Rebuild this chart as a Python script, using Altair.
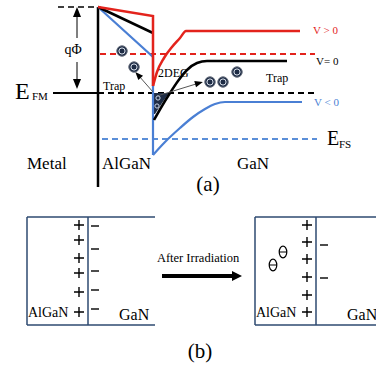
import altair as alt
import pandas as pd

W, H = 376, 368
XS = alt.Scale(domain=[0, W], range=[0, W])
YS = alt.Scale(domain=[0, H], range=[0, H])
FONT = "Liberation Serif"

RED = "#E3231C"
BLUE = "#4A7FD4"
DBLUE = "#5B8FD8"
BOX = "#2E4A70"
NAVY = "#1E2C45"

# ---------------- panel (a) data ----------------
metal_x = [98, 98]; metal_y = [7, 187]
efm_x = [53, 98]; efm_y = [93, 93]
top_dash_x = [58, 97]; top_dash_y = [7, 7]
red_dash_x = [100, 315]; red_dash_y = [54, 54]
black_dash_x = [98, 315]; black_dash_y = [93, 93]
blue_dash_x = [102, 317]; blue_dash_y = [139, 139]

red_top_x = [98, 153, 153]; red_top_y = [7, 16, 86]
red_curve_x = [153, 157, 164, 172, 180, 186, 300]; red_curve_y = [86, 72, 58, 47, 38, 31, 31]
black_top_x = [98, 153]; black_top_y = [7, 33]
black_curve_x = [154, 162, 170, 178, 187, 197, 207, 287]
black_curve_y = [120, 106, 93, 81, 70, 63, 61, 61]
blue_top_x = [98, 153, 153]; blue_top_y = [7, 57, 155]
blue_curve_x = [153, 165, 180, 193, 205, 215, 225, 302]
blue_curve_y = [155, 142, 128, 117, 109, 104, 102, 102]

# 2DEG well fill (rows of the triangle between wall and band)
well_fill_y = [93, 103, 114]
well_fill_x = [154, 154, 154]
well_fill_x2 = [169, 162, 155]

qphi_x1 = [77, 77]; qphi_y1 = [15, 38]
qphi_x2 = [77, 77]; qphi_y2 = [62, 82]
grayL_x = [153, 139]; grayL_y = [92, 76]
grayR_x = [157, 196]; grayR_y = [96, 84]

elec_x = [122, 134, 210, 223, 237]
elec_y = [51, 67, 82, 82, 72]
well_x = [158, 157]
well_y = [98, 106]

# ---------------- panel (b) data ----------------
boxL_h_x = [27, 155]; box_top = 217; box_bot = 325
boxL_left = 27; boxL_div = 88
boxR_h_x = [255, 376]; boxR_left = 255; boxR_div = 316
plusL_y = [225, 240, 258, 273, 292, 312]; plusL_x = 79
minusL_y = [226, 249, 271, 290, 309]; minusL_x = 95
plusR_y = [225, 242, 259, 277, 295, 312]; plusR_x = 307
minusR_y = [245, 278]; minusR_x = 324
omin_x = [283, 273]; omin_y = [252, 265]
irr_x = [162, 234]; irr_y = [276, 276]


def line(xs, ys, color, width, dash=None, interp="linear"):
    df = pd.DataFrame({"x": xs, "y": ys, "o": list(range(len(xs)))})
    kw = dict(color=color, strokeWidth=width, interpolate=interp, clip=False)
    if dash:
        kw["strokeDash"] = dash
    return alt.Chart(df).mark_line(**kw).encode(
        x=alt.X("x:Q", scale=XS, axis=None),
        y=alt.Y("y:Q", scale=YS, axis=None),
        order="o:O",
    )


def pts(xs, ys, **kw):
    df = pd.DataFrame({"x": xs, "y": ys})
    return alt.Chart(df).mark_point(clip=False, opacity=1, **kw).encode(
        x=alt.X("x:Q", scale=XS, axis=None),
        y=alt.Y("y:Q", scale=YS, axis=None),
    )


def txt(s, x, y, size, color="black", align="left", baseline="alphabetic", font=FONT):
    df = pd.DataFrame({"x": [x], "y": [y], "t": [s]})
    return alt.Chart(df).mark_text(
        font=font, fontSize=size, color=color, align=align, baseline=baseline
    ).encode(
        x=alt.X("x:Q", scale=XS, axis=None),
        y=alt.Y("y:Q", scale=YS, axis=None),
        text="t:N",
    )


well_df = pd.DataFrame({"y": well_fill_y, "x": well_fill_x, "x2": well_fill_x2})
well_area = alt.Chart(well_df).mark_area(orient="horizontal", color=NAVY, opacity=1).encode(
    y=alt.Y("y:Q", scale=YS, axis=None),
    x=alt.X("x:Q", scale=XS, axis=None),
    x2="x2:Q",
)

ARROW = "M0,-1L0.8,1L-0.8,1Z"
WARROW = "M0,-1L1,1L-1,1Z"
PLUS = "M-1,0L1,0M0,-1L0,1"
MINUS = "M-1,0L1,0"
OMIN = "M0,-1.25A0.8,1.25 0 1,0 0,1.25A0.8,1.25 0 1,0 0,-1.25M-0.8,0L0.8,0"

layers = [
    # dashed levels
    line(top_dash_x, top_dash_y, "black", 1.5, [6, 4]),
    line(red_dash_x, red_dash_y, RED, 2, [6, 4]),
    line(black_dash_x, black_dash_y, "black", 1.8, [6, 4]),
    line(blue_dash_x, blue_dash_y, DBLUE, 1.8, [6, 4]),
    # metal and EFM
    line(metal_x, metal_y, "black", 2.5),
    line(efm_x, efm_y, "black", 2.2),
    # 2DEG well
    well_area,
    # bands
    line(blue_top_x, blue_top_y, BLUE, 2.2),
    line(blue_curve_x, blue_curve_y, BLUE, 2.2, interp="monotone"),
    line(black_top_x, black_top_y, "black", 2.5),
    line(black_curve_x, black_curve_y, "black", 2.5, interp="monotone"),
    line(red_top_x, red_top_y, RED, 2.5),
    line(red_curve_x, red_curve_y, RED, 2.5, interp="monotone"),
    # qPhi arrow
    line(qphi_x1, qphi_y1, "black", 1),
    line(qphi_x2, qphi_y2, "black", 1),
    pts([77], [12], shape=ARROW, size=25 * 4, filled=True, color="black", angle=0),
    pts([77], [84], shape=ARROW, size=25 * 4, filled=True, color="black", angle=180),
    # gray arrows
    line(grayL_x, grayL_y, "#555555", 1),
    pts([138], [75], shape=ARROW, size=64, filled=True, color="black", angle=318),
    line(grayR_x, grayR_y, "#555555", 1),
    pts([199], [83], shape=ARROW, size=64, filled=True, color="black", angle=74),
    # electrons
    pts(elec_x, elec_y, shape="circle", size=110, filled=True, color=NAVY,
        stroke="#6b7280", strokeWidth=1),
    pts(elec_x, elec_y, shape="circle", size=38, filled=False, color="#dfe6f0",
        strokeWidth=1),
    pts(well_x, well_y, shape="circle", size=18, filled=False, color="#c8d3e6",
        strokeWidth=1),
    # texts (a)
    txt("E", 15, 99, 24),
    txt("FM", 32, 100, 11),
    txt("E", 327, 145, 20),
    txt("FS", 339, 148, 11),
    txt("qΦ", 73, 50, 14, align="center", baseline="middle"),
    txt("Trap", 103, 86, 12, baseline="middle"),
    txt("Trap", 266, 78, 12, baseline="middle"),
    txt("2DEG", 158, 73, 12, baseline="middle"),
    txt("V > 0", 313, 31, 11, color=RED, baseline="middle"),
    txt("V= 0", 316, 62, 11, baseline="middle"),
    txt("V < 0", 314, 103, 11, color=BLUE, baseline="middle"),
    txt("Metal", 27, 169, 17),
    txt("AlGaN", 102, 169, 17),
    txt("GaN", 237, 169, 17),
    txt("(a)", 208, 185, 21, align="center", baseline="middle"),
    # panel (b) boxes
    line(boxL_h_x, [box_top, box_top], BOX, 1.5),
    line(boxL_h_x, [box_bot, box_bot], BOX, 1.5),
    line([boxL_left, boxL_left], [box_top, box_bot], BOX, 1.5),
    line([boxL_div, boxL_div], [box_top, box_bot], BOX, 1.5),
    line(boxR_h_x, [box_top, box_top], BOX, 1.5),
    line(boxR_h_x, [box_bot, box_bot], BOX, 1.5),
    line([boxR_left, boxR_left], [box_top, box_bot], BOX, 1.5),
    line([boxR_div, boxR_div], [box_top, box_bot], BOX, 1.5),
    # charges
    pts([plusL_x] * len(plusL_y), plusL_y, shape=PLUS, size=100, filled=False, color="black",
        strokeWidth=1.4),
    pts([minusL_x] * len(minusL_y), minusL_y, shape=MINUS, size=64, filled=False, color="black",
        strokeWidth=1.4),
    pts([plusR_x] * len(plusR_y), plusR_y, shape=PLUS, size=100, filled=False, color="black",
        strokeWidth=1.4),
    pts([minusR_x] * len(minusR_y), minusR_y, shape=MINUS, size=64, filled=False, color="black",
        strokeWidth=1.4),
    pts(omin_x, omin_y, shape=OMIN, size=90, filled=False, color="black", strokeWidth=1.2),
    # irradiation arrow
    line(irr_x, irr_y, "black", 4),
    pts([237], [276], shape=WARROW, size=100, filled=True, color="black", angle=90),
    # texts (b)
    txt("After Irradiation", 198, 258, 12.5, align="center", baseline="middle"),
    txt("AlGaN", 28, 317, 14),
    txt("GaN", 119, 320, 16),
    txt("AlGaN", 256, 317, 14),
    txt("GaN", 347, 320, 16),
    txt("(b)", 200, 352, 21, align="center", baseline="middle"),
]

chart = alt.layer(*layers).properties(
    width=W, height=H, padding=0, autosize=alt.AutoSizeParams(type="none"),
    background="white",
).configure_view(stroke=None)

chart.save("out.html", embed_options={"renderer": "svg", "actions": False})
